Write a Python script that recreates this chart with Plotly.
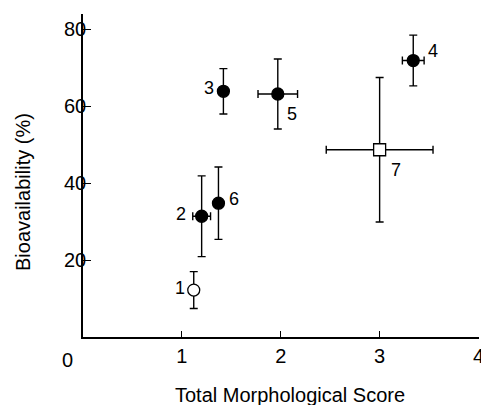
import plotly.graph_objects as go

# Data
sample_ids = ["1", "2", "3", "4", "5", "6", "7"]
morph_score = [1.12, 1.20, 1.42, 3.34, 1.97, 1.37, 3.00]
morph_err = [0.0, 0.09, 0.0, 0.11, 0.20, 0.0, 0.54]
bioavail = [12.2, 31.4, 63.9, 71.9, 63.2, 34.8, 48.7]
bioavail_err = [4.8, 10.5, 5.9, 6.6, 9.1, 9.4, 18.8]
open_marker = [True, False, False, False, False, False, True]
marker_symbol = ["circle", "circle", "circle", "circle", "circle", "circle", "square"]
x_ticks = [1, 2, 3, 4]
y_ticks = [20, 40, 60, 80]
x_title = "Total Morphological Score"
y_title = "Bioavailability (%)"
# label offsets (pixels) relative to each point
label_dx = [-14, -21, -14, 20, 14, 16, 16]
label_dy = [2, 2, 3, 10, -20, 4, -20]

FONT = "Liberation Sans, Arial, Helvetica, sans-serif"

fig = go.Figure()
fig.add_trace(go.Scatter(
    x=morph_score, y=bioavail, mode="markers",
    marker=dict(
        symbol=marker_symbol,
        size=12, opacity=1,
        color=["white" if o else "black" for o in open_marker],
        line=dict(color="black", width=1.3),
    ),
    error_y=dict(type="data", array=bioavail_err, visible=True,
                 color="black", thickness=1.4, width=4),
    error_x=dict(type="data", array=morph_err, visible=True,
                 color="black", thickness=1.4, width=4),
    showlegend=False, hoverinfo="skip",
))

for sid, x, y, dx, dy in zip(sample_ids, morph_score, bioavail, label_dx, label_dy):
    fig.add_annotation(x=x, y=y, text=sid, showarrow=False,
                       xshift=dx, yshift=dy,
                       font=dict(family=FONT, size=18, color="black"))

# corner "0" label
fig.add_annotation(x=0, y=0, xref="x", yref="y", text="0", showarrow=False,
                   xshift=-16, yshift=-23,
                   font=dict(family=FONT, size=20, color="black"))

# axis titles
fig.add_annotation(x=0.523, y=0, xref="paper", yref="paper", text=x_title,
                   showarrow=False, yanchor="middle", yshift=-58,
                   font=dict(family=FONT, size=20, color="black"))
fig.add_annotation(x=0, y=0.449, xref="paper", yref="paper", text=y_title,
                   showarrow=False, xanchor="center", yanchor="middle",
                   textangle=-90, xshift=-60,
                   font=dict(family=FONT, size=20, color="black"))

fig.update_layout(
    width=481, height=405,
    margin=dict(l=83, r=2, t=14, b=68),
    paper_bgcolor="white", plot_bgcolor="white",
    font=dict(family=FONT, size=20, color="black"),
    xaxis=dict(
        range=[0, 4.005], tickvals=x_ticks,
        ticks="inside", ticklen=6, tickwidth=1.3, tickcolor="black",
        showline=True, linecolor="black", linewidth=1.5,
        showgrid=False, zeroline=False, automargin=False,
        tickfont=dict(size=20), ticklabeloverflow="allow",
    ),
    yaxis=dict(
        range=[0, 84], tickvals=y_ticks,
        ticks="inside", ticklen=8, tickwidth=1.3, tickcolor="black",
        showline=True, linecolor="black", linewidth=1.5,
        showgrid=False, zeroline=False, automargin=False,
        tickfont=dict(size=20), ticklabelstandoff=-9,
    ),
)

fig.write_html(
    "out.html",
    config={"displayModeBar": False},
    post_script="document.body.style.margin='0px'; document.documentElement.style.overflow='hidden'; document.body.style.overflow='hidden';",
)
